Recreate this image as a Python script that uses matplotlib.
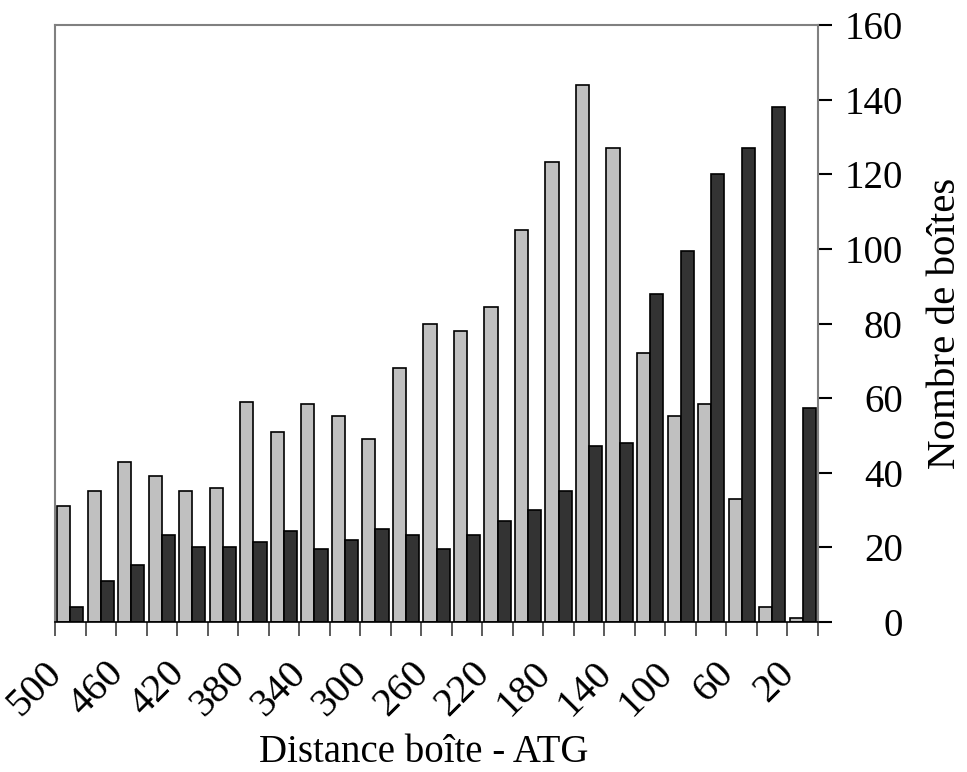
import numpy as np
import matplotlib
matplotlib.use("Agg")
import matplotlib.pyplot as plt
import matplotlib.transforms as mtransforms

plt.rcParams['font.family'] = ['Liberation Serif', 'DejaVu Serif']

# distance of each 20-bp window (start of the window), from 500 down to 20
distance = [500, 480, 460, 440, 420, 400, 380, 360, 340, 320, 300, 280, 260,
            240, 220, 200, 180, 160, 140, 120, 100, 80, 60, 40, 20]
# light grey series
light_counts = [31, 35, 43, 39, 35, 36, 59, 51, 58.4, 55.3, 49, 68, 80,
                78, 84.4, 105, 123.4, 144, 127, 72, 55.3, 58.3, 33, 4, 1]
# dark series
dark_counts = [4, 11, 15.3, 23.3, 20.2, 20.2, 21.4, 24.5, 19.6, 22, 25, 23.3, 19.6,
               23.2, 27, 30, 35, 47.3, 48, 88, 99.3, 120.2, 127, 138, 57.3]

y_ticks = [0, 20, 40, 60, 80, 100, 120, 140, 160]

fig = plt.figure(figsize=(9.67, 7.72), dpi=100)
ax = fig.add_axes([55 / 967, 150 / 772, 763 / 967, 597 / 772])

n = len(distance)
pos = np.arange(n) + 0.5
w = 0.43
ax.bar(pos - w / 2, light_counts, width=w, color='#c0c0c0', edgecolor='black', linewidth=1.2)
ax.bar(pos + w / 2, dark_counts, width=w, color='#333333', edgecolor='black', linewidth=1.2)

ax.set_xlim(0, n)
ax.set_ylim(0, 160)

# x ticks on every window boundary, label every other one
ax.set_xticks(np.arange(n + 1))
labels = [str(d) if i % 2 == 0 else '' for i, d in enumerate(distance)] + ['']
ax.set_xticklabels(labels, rotation=45, ha='right', fontsize=29)
ax.tick_params(axis='x', direction='out', length=10, width=1.2, color='#404040', pad=4)
# shift the rotated labels a little right and down (after tick_params, which resets transforms)
offset = mtransforms.ScaledTranslation(15 / 100, -13 / 100, fig.dpi_scale_trans)
for lab in ax.get_xticklabels():
    lab.set_transform(lab.get_transform() + offset)

# y axis on the right
ax.yaxis.tick_right()
ax.yaxis.set_label_position('right')
ax.set_yticks(y_ticks)
ax.set_yticklabels([str(v) for v in y_ticks], fontsize=28, ha='right')
ax.tick_params(axis='y', direction='out', length=10, width=1.5, color='black', pad=51)

ax.set_xlabel('Distance boîte - ATG', fontsize=28)
ax.xaxis.set_label_coords(0.4836, -0.235)
ax.xaxis.label.set_va('baseline')
ax.set_ylabel('Nombre de boîtes', fontsize=29.5)
ax.yaxis.set_label_coords(1.143, 0.5)

for side in ['left', 'top', 'right']:
    ax.spines[side].set_color('#808080')
    ax.spines[side].set_linewidth(1.5)
ax.spines['bottom'].set_color('black')
ax.spines['bottom'].set_linewidth(1.2)

fig.savefig('out.png', dpi=100)
